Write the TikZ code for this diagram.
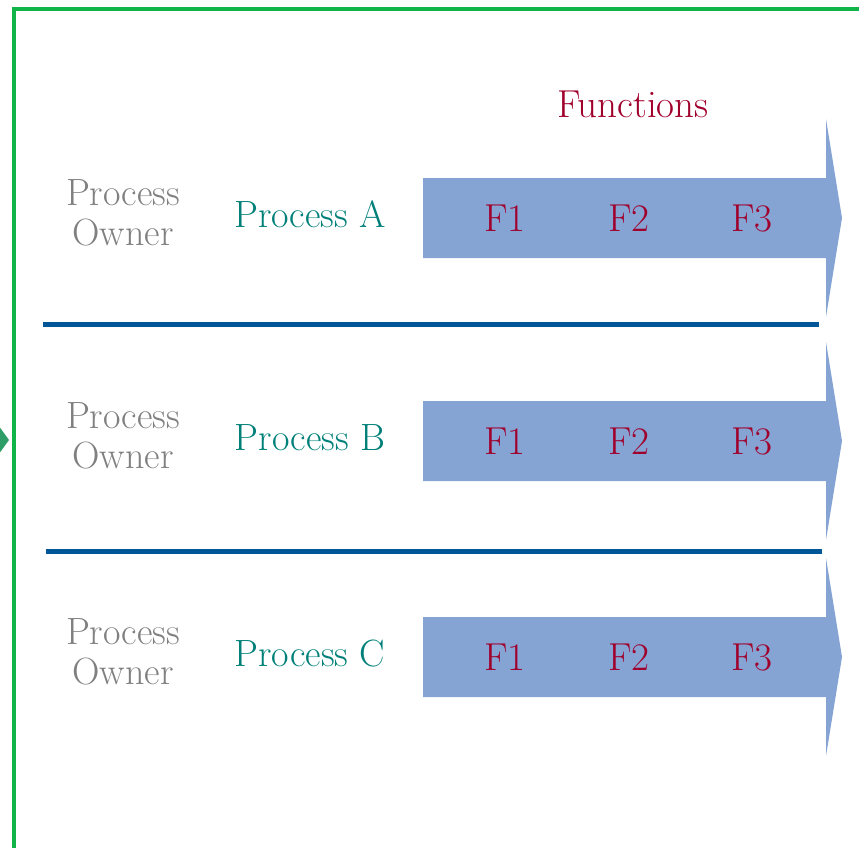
\documentclass[tikz,border=0pt]{standalone}
\definecolor{framegreen}{RGB}{16,180,72}
\definecolor{tabgreen}{RGB}{46,158,104}
\definecolor{arrowblue}{RGB}{133,164,212}
\definecolor{rowblue}{RGB}{0,86,150}
\definecolor{ownergray}{RGB}{128,128,128}
\definecolor{procteal}{RGB}{0,128,120}
\definecolor{funcred}{RGB}{160,0,44}
\tikzset{
  owner/.style={text=ownergray, align=center, font=\fontsize{38}{40}\selectfont},
  proc/.style={text=procteal, anchor=base, font=\fontsize{38}{40}\selectfont},
  func/.style={text=funcred, anchor=base, font=\fontsize{39}{40}\selectfont},
  rowline/.style={draw=rowblue, line width=5pt}
}
\begin{document}
\begin{tikzpicture}[x=1pt, y=-1pt, inner sep=0pt]
  \useasboundingbox (0,0) rectangle (859,848);
  \clip (0,0) rectangle (859,848);
  % frame and the tab on its left side
  \draw[framegreen, line width=3.5pt] (14,870) -- (14,9) -- (880,9);
  \fill[tabgreen] (-12,411) -- (9,440) -- (-12,469) -- cycle;
  \node[func] (func) at (633,118) {Functions};
  % one row per process
  \foreach \y/\p in {218/A, 441/B, 657/C} {
    \fill[arrowblue] (423,\y-40) -- (826,\y-40) -- (826,\y-99) -- (842,\y)
      -- (826,\y+99) -- (826,\y+40) -- (423,\y+40) -- cycle;
    \node[owner] (own\p) at (123,\y-5) {Process\\Owner};
    \node[proc] (proc\p) at (310,\y+9) {Process \p};
    \foreach \f/\x in {1/505, 2/629, 3/752}
      \node[func] (f\p\f) at (\x,\y+13) {F\f};
  }
  \draw[rowline] (43,324) -- (819,324);
  \draw[rowline] (46,551) -- (822,551);
\end{tikzpicture}
\end{document}
